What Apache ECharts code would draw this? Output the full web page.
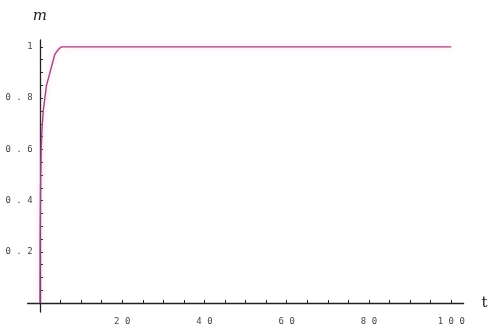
<!DOCTYPE html>
<html>
<head>
<meta charset="utf-8">
<script src="https://cdn.jsdelivr.net/npm/echarts@6/dist/echarts.min.js"></script>
<style>
  html, body { margin: 0; padding: 0; background: #fff; }
  #chart { width: 491px; height: 329px; }
</style>
</head>
<body>
<div id="chart"></div>
<script>
// m(t): fast rise to saturation, then constant
const tValues = [0, 0.05, 0.15, 0.3, 0.5, 0.8, 1.2, 1.6, 2.1, 2.6, 3.1, 3.6, 4.2, 4.8, 5.3, 100];
const mValues = [0, 0.25, 0.45, 0.6, 0.68, 0.75, 0.8, 0.85, 0.88, 0.91, 0.94, 0.97, 0.985, 0.995, 1, 1];

const xLabelValues = [20, 40, 60, 80, 100];
const xTickValues = [5, 10, 15, 20, 25, 30, 35, 40, 45, 50, 55, 60, 65, 70, 75, 80, 85, 90, 95, 100];
const yLabelValues = [0.2, 0.4, 0.6, 0.8, 1];
const yTickValues = [0.05, 0.1, 0.15, 0.2, 0.25, 0.3, 0.35, 0.4, 0.45, 0.5, 0.55, 0.6, 0.65, 0.7, 0.75, 0.8, 0.85, 0.9, 0.95, 1];

const points = tValues.map((t, i) => [t, mValues[i]]);

// spaced-out monospace digits for tick labels
const spaced = v => String(v).split('').join(' ');

const labelFont = {
  fontFamily: 'DejaVu Sans Mono',
  fontSize: 9,
  color: '#444',
  formatter: spaced
};

const chart = echarts.init(document.getElementById('chart'));
chart.setOption({
  animation: false,
  backgroundColor: '#fff',
  grid: {
    left: 27.6,
    top: 40,
    width: 436,
    height: 272,
    containLabel: false,
    outerBoundsMode: 'none'
  },
  xAxis: {
    type: 'value',
    min: -3,
    max: 103,
    name: 't',
    nameLocation: 'end',
    nameGap: 18,
    nameTextStyle: { fontFamily: 'DejaVu Serif', fontSize: 15, color: '#222', verticalAlign: 'middle' },
    axisLine: { onZero: true, lineStyle: { color: '#222', width: 1.3 } },
    axisTick: { show: true, inside: true, length: 3, customValues: xTickValues, lineStyle: { color: '#222' } },
    axisLabel: Object.assign({ customValues: xLabelValues, margin: 5 }, labelFont),
    splitLine: { show: false }
  },
  yAxis: {
    type: 'value',
    min: -0.035,
    max: 1.027,
    name: 'm',
    nameLocation: 'end',
    nameGap: 16,
    nameTextStyle: { fontFamily: 'DejaVu Serif', fontStyle: 'italic', fontSize: 15, color: '#222', align: 'center' },
    axisLine: { onZero: true, lineStyle: { color: '#222', width: 1.3 } },
    axisTick: { show: true, inside: true, length: 3, customValues: yTickValues, lineStyle: { color: '#222' } },
    axisLabel: Object.assign({ customValues: yLabelValues, margin: -5 }, labelFont),
    splitLine: { show: false }
  },
  series: [{
    type: 'line',
    data: points,
    showSymbol: false,
    smooth: false,
    lineStyle: {
      color: '#a0487e',
      width: 1.4,
      shadowColor: 'rgba(240,140,220,0.6)',
      shadowBlur: 5
    }
  }]
});
</script>
</body>
</html>
